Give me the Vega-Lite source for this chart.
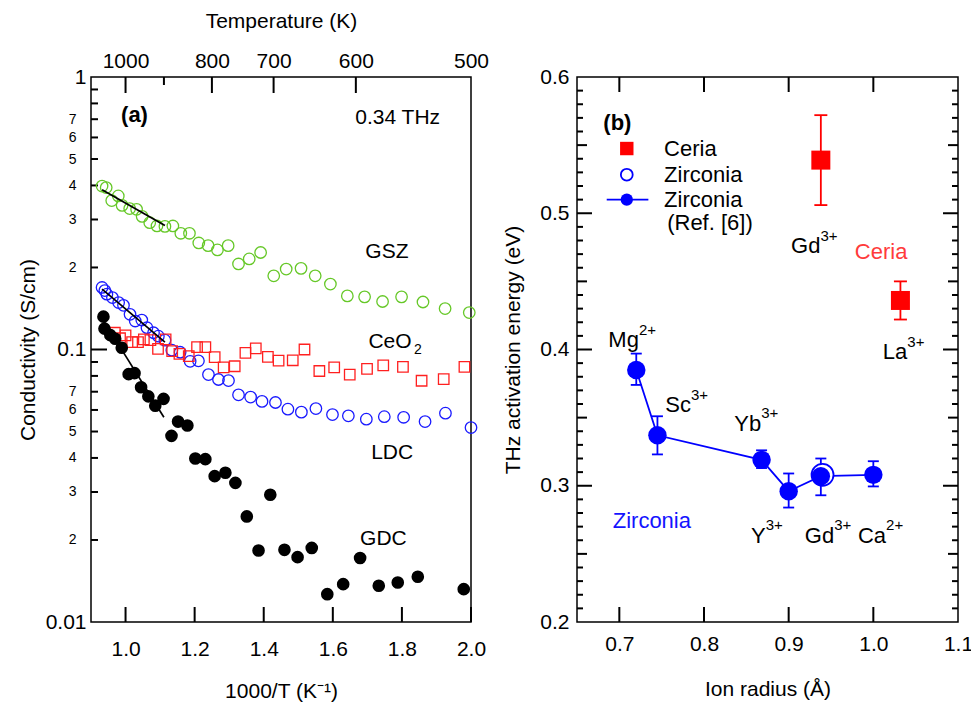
{
  "$schema": "https://vega.github.io/schema/vega-lite/v6.json",
  "background": "white",
  "padding": {"left": 16, "top": 9, "right": 5, "bottom": 5},
  "spacing": 12,
  "config": {
    "view": {"stroke": "black", "strokeWidth": 1.5},
    "axis": {"domain": false, "grid": false, "ticks": false, "labelColor": "black", "labelFont": "Liberation Sans", "labelFontSize": 21, "titleFont": "Liberation Sans", "titleFontSize": 21, "titleFontWeight": "normal", "titleColor": "black", "labelFlush": false, "labelOverlap": false},
    "text": {"font": "Liberation Sans", "color": "black"}
  },
  "hconcat": [
    {
      "width": 380,
      "height": 545,
      "layer": [
        {
          "data": {"values": [{"v":1.0},{"v":1.2},{"v":1.4},{"v":1.6},{"v":1.8},{"v":2.0}]},
          "mark": {"type": "rule", "color": "#000000", "strokeWidth": 2},
          "encoding": {
            "x": {"field": "v", "type": "quantitative", "scale": {"domain": [0.9, 2.0], "nice": false, "zero": false}, "axis": null},
            "y": {"datum": 0.01, "type": "quantitative", "scale": {"type": "log", "domain": [0.01, 1], "nice": false}, "axis": null},
            "y2": {"datum": 0.01135}
          }
        },
        {
          "data": {"values": [{"v":1.0},{"v":1.25},{"v":1.4285714},{"v":1.6666667}]},
          "mark": {"type": "rule", "color": "#000000", "strokeWidth": 2},
          "encoding": {
            "x": {"field": "v", "type": "quantitative", "scale": {"domain": [0.9, 2.0], "nice": false, "zero": false}, "axis": null},
            "y": {"datum": 1, "type": "quantitative", "scale": {"type": "log", "domain": [0.01, 1], "nice": false}, "axis": null},
            "y2": {"datum": 0.8736}
          }
        },
        {
          "data": {"values": [{"v":1.1111111}]},
          "mark": {"type": "rule", "color": "#000000", "strokeWidth": 2},
          "encoding": {
            "x": {"field": "v", "type": "quantitative", "scale": {"domain": [0.9, 2.0], "nice": false, "zero": false}, "axis": null},
            "y": {"datum": 1, "type": "quantitative", "scale": {"type": "log", "domain": [0.01, 1], "nice": false}, "axis": null},
            "y2": {"datum": 0.9347}
          }
        },
        {
          "data": {"values": [{"v":0.1}]},
          "mark": {"type": "rule", "color": "#000000", "strokeWidth": 2},
          "encoding": {
            "x": {"datum": 0.9, "type": "quantitative", "scale": {"domain": [0.9, 2.0], "nice": false, "zero": false}, "axis": null},
            "x2": {"datum": 0.9463},
            "y": {"field": "v", "type": "quantitative", "scale": {"type": "log", "domain": [0.01, 1], "nice": false}, "axis": null}
          }
        },
        {
          "data": {"values": [{"v":0.02},{"v":0.03},{"v":0.04},{"v":0.05},{"v":0.06},{"v":0.07},{"v":0.08},{"v":0.09},{"v":0.2},{"v":0.3},{"v":0.4},{"v":0.5},{"v":0.6},{"v":0.7},{"v":0.8},{"v":0.9}]},
          "mark": {"type": "rule", "color": "#000000", "strokeWidth": 2},
          "encoding": {
            "x": {"datum": 0.9, "type": "quantitative", "scale": {"domain": [0.9, 2.0], "nice": false, "zero": false}, "axis": null},
            "x2": {"datum": 0.9203},
            "y": {"field": "v", "type": "quantitative", "scale": {"type": "log", "domain": [0.01, 1], "nice": false}, "axis": null}
          }
        },
        {
          "data": {"values": [
            {"x":0.932,"y":0.398},{"x":0.944,"y":0.393},{"x":0.960,"y":0.352},{"x":0.979,"y":0.366},{"x":0.990,"y":0.338},{"x":1.012,"y":0.329},{"x":1.032,"y":0.327},{"x":1.048,"y":0.308},{"x":1.070,"y":0.292},{"x":1.091,"y":0.284},{"x":1.114,"y":0.283},{"x":1.137,"y":0.284},{"x":1.160,"y":0.267},{"x":1.185,"y":0.267},{"x":1.212,"y":0.246},{"x":1.239,"y":0.2405},{"x":1.266,"y":0.232},{"x":1.297,"y":0.2405},{"x":1.327,"y":0.206},{"x":1.358,"y":0.215},{"x":1.391,"y":0.227},{"x":1.429,"y":0.1864},{"x":1.465,"y":0.1973},{"x":1.508,"y":0.1985},{"x":1.549,"y":0.1864},{"x":1.593,"y":0.1738},{"x":1.642,"y":0.1573},{"x":1.692,"y":0.156},{"x":1.744,"y":0.150},{"x":1.799,"y":0.156},{"x":1.861,"y":0.1494},{"x":1.925,"y":0.1413},{"x":1.995,"y":0.1366}
          ]},
          "mark": {"type": "point", "shape": "circle", "filled": false, "color": "#66c828", "strokeWidth": 1.3, "size": 132, "opacity": 1},
          "encoding": {
            "x": {"field": "x", "type": "quantitative", "scale": {"domain": [0.9, 2.0], "nice": false, "zero": false},
                  "axis": {"orient": "bottom", "values": [1, 1.2, 1.4, 1.6, 1.8, 2], "format": ".1f", "labelPadding": 16, "title": "1000/T (K⁻¹)", "titlePadding": 21}},
            "y": {"field": "y", "type": "quantitative", "scale": {"type": "log", "domain": [0.01, 1], "nice": false},
                  "axis": {"orient": "left", "values": [0.01, 0.1, 1], "labelExpr": "datum.value > 0.5 ? '1' : datum.value > 0.05 ? '0.1' : '0.01'", "labelPadding": 5, "title": "Conductivity (S/cm)", "titlePadding": 7}}
          }
        },
        {
          "data": {"values": [
            {"x":0.932,"y":0.1689},{"x":0.940,"y":0.1645},{"x":0.946,"y":0.1596},{"x":0.962,"y":0.1551},{"x":0.980,"y":0.1487},{"x":0.994,"y":0.1453},{"x":1.013,"y":0.1346},{"x":1.028,"y":0.1272},{"x":1.047,"y":0.1282},{"x":1.062,"y":0.1202},{"x":1.081,"y":0.1152},{"x":1.095,"y":0.1119},{"x":1.114,"y":0.1082},{"x":1.134,"y":0.0994},{"x":1.158,"y":0.0977},{"x":1.187,"y":0.0905},{"x":1.211,"y":0.0909},{"x":1.240,"y":0.0809},{"x":1.269,"y":0.0776},{"x":1.298,"y":0.0769},{"x":1.327,"y":0.0682},{"x":1.362,"y":0.0669},{"x":1.395,"y":0.0645},{"x":1.434,"y":0.0639},{"x":1.470,"y":0.0604},{"x":1.509,"y":0.0589},{"x":1.551,"y":0.0607},{"x":1.599,"y":0.0577},{"x":1.645,"y":0.0571},{"x":1.697,"y":0.0555},{"x":1.749,"y":0.0567},{"x":1.805,"y":0.0564},{"x":1.867,"y":0.0544},{"x":1.926,"y":0.0584},{"x":2.000,"y":0.0517}
          ]},
          "mark": {"type": "point", "shape": "circle", "filled": false, "color": "#1a1aff", "strokeWidth": 1.3, "size": 132, "opacity": 1},
          "encoding": {
            "x": {"field": "x", "type": "quantitative", "scale": {"domain": [0.9, 2.0], "nice": false, "zero": false},
                  "axis": {"orient": "top", "values": [1, 1.25, 1.4285714, 1.6666667, 2], "labelExpr": "format(1000 / datum.value, '.0f')", "labelPadding": 6, "title": "Temperature (K)", "titlePadding": 19}},
            "y": {"field": "y", "type": "quantitative", "scale": {"type": "log", "domain": [0.01, 1], "nice": false},
                  "axis": {"orient": "left", "values": [0.02, 0.03, 0.04, 0.05, 0.06, 0.07, 0.2, 0.3, 0.4, 0.5, 0.6, 0.7], "labelExpr": "format(datum.value < 0.095 ? round(datum.value * 100) : round(datum.value * 10), 'd')", "labelFontSize": 14, "labelPadding": 15, "title": null}}
          }
        },
        {
          "data": {"values": [
            {"x":0.969,"y":0.1152},{"x":0.984,"y":0.1100},{"x":1.000,"y":0.1126},{"x":1.019,"y":0.1064},{"x":1.036,"y":0.1064},{"x":1.053,"y":0.1089},{"x":1.072,"y":0.1082},{"x":1.094,"y":0.1006},{"x":1.116,"y":0.1089},{"x":1.135,"y":0.0986},{"x":1.156,"y":0.0964},{"x":1.183,"y":0.0945},{"x":1.207,"y":0.1020},{"x":1.231,"y":0.1020},{"x":1.258,"y":0.0937},{"x":1.284,"y":0.0860},{"x":1.316,"y":0.0868},{"x":1.347,"y":0.0972},{"x":1.377,"y":0.1009},{"x":1.412,"y":0.0940},{"x":1.443,"y":0.0911},{"x":1.484,"y":0.0913},{"x":1.518,"y":0.1000},{"x":1.561,"y":0.0834},{"x":1.604,"y":0.0860},{"x":1.649,"y":0.0809},{"x":1.699,"y":0.0849},{"x":1.746,"y":0.0875},{"x":1.803,"y":0.0863},{"x":1.857,"y":0.0768},{"x":1.921,"y":0.0779},{"x":1.981,"y":0.0863}
          ]},
          "mark": {"type": "point", "shape": "square", "filled": false, "color": "#ff2020", "strokeWidth": 1.3, "size": 110, "opacity": 1},
          "encoding": {
            "x": {"field": "x", "type": "quantitative", "scale": {"domain": [0.9, 2.0], "nice": false, "zero": false}, "axis": null},
            "y": {"field": "y", "type": "quantitative", "scale": {"type": "log", "domain": [0.01, 1], "nice": false}, "axis": null}
          }
        },
        {
          "data": {"values": [
            {"x":0.936,"y":0.1320},{"x":0.939,"y":0.1193},{"x":0.956,"y":0.1129},{"x":0.970,"y":0.1095},{"x":0.989,"y":0.1015},{"x":1.009,"y":0.0812},{"x":1.026,"y":0.0819},{"x":1.045,"y":0.0727},{"x":1.066,"y":0.0673},{"x":1.086,"y":0.0622},{"x":1.110,"y":0.0659},{"x":1.133,"y":0.0482},{"x":1.152,"y":0.0544},{"x":1.179,"y":0.0526},{"x":1.202,"y":0.0398},{"x":1.231,"y":0.0396},{"x":1.258,"y":0.0343},{"x":1.289,"y":0.0353},{"x":1.318,"y":0.0324},{"x":1.351,"y":0.0244},{"x":1.385,"y":0.0183},{"x":1.419,"y":0.0293},{"x":1.460,"y":0.0184},{"x":1.498,"y":0.0173},{"x":1.539,"y":0.0187},{"x":1.584,"y":0.01265},{"x":1.630,"y":0.01377},{"x":1.679,"y":0.01718},{"x":1.733,"y":0.01358},{"x":1.788,"y":0.01396},{"x":1.846,"y":0.01466},{"x":1.979,"y":0.0132}
          ]},
          "mark": {"type": "point", "shape": "circle", "filled": true, "color": "black", "size": 160, "opacity": 1},
          "encoding": {
            "x": {"field": "x", "type": "quantitative", "scale": {"domain": [0.9, 2.0], "nice": false, "zero": false}, "axis": null},
            "y": {"field": "y", "type": "quantitative", "scale": {"type": "log", "domain": [0.01, 1], "nice": false}, "axis": null}
          }
        },
        {
          "data": {"values": [
            {"s":"GSZ","x":0.932,"y":0.386},{"s":"GSZ","x":1.114,"y":0.285},
            {"s":"LDC","x":0.932,"y":0.1665},{"s":"LDC","x":1.114,"y":0.1064},
            {"s":"GDC","x":0.931,"y":0.1309},{"s":"GDC","x":1.111,"y":0.0564}
          ]},
          "mark": {"type": "line", "color": "black", "strokeWidth": 1.7},
          "encoding": {
            "x": {"field": "x", "type": "quantitative", "scale": {"domain": [0.9, 2.0], "nice": false, "zero": false}, "axis": null},
            "y": {"field": "y", "type": "quantitative", "scale": {"type": "log", "domain": [0.01, 1], "nice": false}, "axis": null},
            "detail": {"field": "s"}
          }
        },
        {
          "data": {"values": [
            {"t":"0.34 THz","x":1.665,"y":0.6725},
            {"t":"GSZ","x":1.694,"y":0.2167},
            {"t":"CeO","x":1.703,"y":0.1015},
            {"t":"LDC","x":1.711,"y":0.0398},
            {"t":"GDC","x":1.679,"y":0.01919}
          ]},
          "mark": {"type": "text", "align": "left", "baseline": "alphabetic", "fontSize": 21},
          "encoding": {
            "x": {"field": "x", "type": "quantitative", "scale": {"domain": [0.9, 2.0], "nice": false, "zero": false}, "axis": null},
            "y": {"field": "y", "type": "quantitative", "scale": {"type": "log", "domain": [0.01, 1], "nice": false}, "axis": null},
            "text": {"field": "t"}
          }
        },
        {
          "data": {"values": [{"t":"2","x":1.8347,"y":0.0966}]},
          "mark": {"type": "text", "align": "left", "baseline": "alphabetic", "fontSize": 14},
          "encoding": {
            "x": {"field": "x", "type": "quantitative", "scale": {"domain": [0.9, 2.0], "nice": false, "zero": false}, "axis": null},
            "y": {"field": "y", "type": "quantitative", "scale": {"type": "log", "domain": [0.01, 1], "nice": false}, "axis": null},
            "text": {"field": "t"}
          }
        },
        {
          "data": {"values": [{"t":"(a)","x":0.987,"y":0.682}]},
          "mark": {"type": "text", "align": "left", "baseline": "alphabetic", "fontSize": 22, "fontWeight": "bold"},
          "encoding": {
            "x": {"field": "x", "type": "quantitative", "scale": {"domain": [0.9, 2.0], "nice": false, "zero": false}, "axis": null},
            "y": {"field": "y", "type": "quantitative", "scale": {"type": "log", "domain": [0.01, 1], "nice": false}, "axis": null},
            "text": {"field": "t"}
          }
        }
      ],
      "resolve": {"axis": {"x": "independent", "y": "independent"}}
    },
    {
      "width": 381,
      "height": 545,
      "layer": [
        {
          "data": {"values": [{"v":0.7},{"v":0.8},{"v":0.9},{"v":1.0}]},
          "mark": {"type": "rule", "color": "#000000", "strokeWidth": 2},
          "encoding": {
            "x": {"field": "v", "type": "quantitative", "scale": {"domain": [0.65, 1.1], "nice": false, "zero": false}, "axis": null},
            "y": {"datum": 0.2, "type": "quantitative", "scale": {"domain": [0.2, 0.6], "nice": false, "zero": false}, "axis": null},
            "y2": {"datum": 0.211}
          }
        },
        {
          "data": {"values": [{"v":0.7},{"v":0.8},{"v":0.9},{"v":1.0}]},
          "mark": {"type": "rule", "color": "#000000", "strokeWidth": 2},
          "encoding": {
            "x": {"field": "v", "type": "quantitative", "scale": {"domain": [0.65, 1.1], "nice": false, "zero": false}, "axis": null},
            "y": {"datum": 0.6, "type": "quantitative", "scale": {"domain": [0.2, 0.6], "nice": false, "zero": false}, "axis": null},
            "y2": {"datum": 0.589}
          }
        },
        {
          "data": {"values": [{"v":0.3},{"v":0.4},{"v":0.5}]},
          "mark": {"type": "rule", "color": "#000000", "strokeWidth": 2},
          "encoding": {
            "x": {"datum": 0.65, "type": "quantitative", "scale": {"domain": [0.65, 1.1], "nice": false, "zero": false}, "axis": null},
            "x2": {"datum": 0.6677},
            "y": {"field": "v", "type": "quantitative", "scale": {"domain": [0.2, 0.6], "nice": false, "zero": false}, "axis": null}
          }
        },
        {
          "data": {"values": [{"v":0.25},{"v":0.35},{"v":0.45},{"v":0.55}]},
          "mark": {"type": "rule", "color": "#000000", "strokeWidth": 2},
          "encoding": {
            "x": {"datum": 0.65, "type": "quantitative", "scale": {"domain": [0.65, 1.1], "nice": false, "zero": false}, "axis": null},
            "x2": {"datum": 0.6618},
            "y": {"field": "v", "type": "quantitative", "scale": {"domain": [0.2, 0.6], "nice": false, "zero": false}, "axis": null}
          }
        },
        {
          "data": {"values": [{"v":0.21},{"v":0.22},{"v":0.23},{"v":0.24},{"v":0.26},{"v":0.27},{"v":0.28},{"v":0.29},{"v":0.31},{"v":0.32},{"v":0.33},{"v":0.34},{"v":0.36},{"v":0.37},{"v":0.38},{"v":0.39},{"v":0.41},{"v":0.42},{"v":0.43},{"v":0.44},{"v":0.46},{"v":0.47},{"v":0.48},{"v":0.49},{"v":0.51},{"v":0.52},{"v":0.53},{"v":0.54},{"v":0.56},{"v":0.57},{"v":0.58},{"v":0.59}]},
          "mark": {"type": "rule", "color": "#000000", "strokeWidth": 2},
          "encoding": {
            "x": {"datum": 0.65, "type": "quantitative", "scale": {"domain": [0.65, 1.1], "nice": false, "zero": false}, "axis": null},
            "x2": {"datum": 0.6571},
            "y": {"field": "v", "type": "quantitative", "scale": {"domain": [0.2, 0.6], "nice": false, "zero": false}, "axis": null}
          }
        },
        {
          "data": {"values": [{"v":0.3},{"v":0.4},{"v":0.5}]},
          "mark": {"type": "rule", "color": "#000000", "strokeWidth": 2},
          "encoding": {
            "x": {"datum": 1.1, "type": "quantitative", "scale": {"domain": [0.65, 1.1], "nice": false, "zero": false}, "axis": null},
            "x2": {"datum": 1.0823},
            "y": {"field": "v", "type": "quantitative", "scale": {"domain": [0.2, 0.6], "nice": false, "zero": false}, "axis": null}
          }
        },
        {
          "data": {"values": [{"v":0.25},{"v":0.35},{"v":0.45},{"v":0.55}]},
          "mark": {"type": "rule", "color": "#000000", "strokeWidth": 2},
          "encoding": {
            "x": {"datum": 1.1, "type": "quantitative", "scale": {"domain": [0.65, 1.1], "nice": false, "zero": false}, "axis": null},
            "x2": {"datum": 1.0882},
            "y": {"field": "v", "type": "quantitative", "scale": {"domain": [0.2, 0.6], "nice": false, "zero": false}, "axis": null}
          }
        },
        {
          "data": {"values": [{"v":0.21},{"v":0.22},{"v":0.23},{"v":0.24},{"v":0.26},{"v":0.27},{"v":0.28},{"v":0.29},{"v":0.31},{"v":0.32},{"v":0.33},{"v":0.34},{"v":0.36},{"v":0.37},{"v":0.38},{"v":0.39},{"v":0.41},{"v":0.42},{"v":0.43},{"v":0.44},{"v":0.46},{"v":0.47},{"v":0.48},{"v":0.49},{"v":0.51},{"v":0.52},{"v":0.53},{"v":0.54},{"v":0.56},{"v":0.57},{"v":0.58},{"v":0.59}]},
          "mark": {"type": "rule", "color": "#000000", "strokeWidth": 2},
          "encoding": {
            "x": {"datum": 1.1, "type": "quantitative", "scale": {"domain": [0.65, 1.1], "nice": false, "zero": false}, "axis": null},
            "x2": {"datum": 1.0929},
            "y": {"field": "v", "type": "quantitative", "scale": {"domain": [0.2, 0.6], "nice": false, "zero": false}, "axis": null}
          }
        },
        {
          "data": {"values": [{"x":0.938,"y":0.539,"lo":0.506,"hi":0.572},{"x":1.032,"y":0.436,"lo":0.422,"hi":0.450}]},
          "mark": {"type": "rule", "color": "#ff0000", "strokeWidth": 1.8},
          "encoding": {
            "x": {"field": "x", "type": "quantitative", "scale": {"domain": [0.65, 1.1], "nice": false, "zero": false},
                  "axis": {"orient": "bottom", "values": [0.7, 0.8, 0.9, 1.0, 1.1], "format": ".1f", "labelPadding": 11, "title": "Ion radius (Å)", "titlePadding": 24}},
            "y": {"field": "lo", "type": "quantitative", "scale": {"domain": [0.2, 0.6], "nice": false, "zero": false},
                  "axis": {"orient": "left", "values": [0.2, 0.3, 0.4, 0.5, 0.6], "format": ".1f", "labelPadding": 8, "title": "THz activation energy (eV)", "titlePadding": 16}},
            "y2": {"field": "hi"}
          }
        },
        {
          "data": {"values": [{"x":0.938,"v":0.506},{"x":0.938,"v":0.572},{"x":1.032,"v":0.422},{"x":1.032,"v":0.450}]},
          "mark": {"type": "tick", "orient": "horizontal", "color": "#ff0000", "size": 13, "thickness": 1.8, "opacity": 1},
          "encoding": {
            "x": {"field": "x", "type": "quantitative", "scale": {"domain": [0.65, 1.1], "nice": false, "zero": false}, "axis": null},
            "y": {"field": "v", "type": "quantitative", "scale": {"domain": [0.2, 0.6], "nice": false, "zero": false}, "axis": null}
          }
        },
        {
          "data": {"values": [{"x":0.938,"y":0.539},{"x":1.032,"y":0.436}]},
          "mark": {"type": "point", "shape": "square", "filled": true, "color": "#ff0000", "size": 361, "opacity": 1},
          "encoding": {
            "x": {"field": "x", "type": "quantitative", "scale": {"domain": [0.65, 1.1], "nice": false, "zero": false}, "axis": null},
            "y": {"field": "y", "type": "quantitative", "scale": {"domain": [0.2, 0.6], "nice": false, "zero": false}, "axis": null}
          }
        },
        {
          "data": {"values": [
            {"ion":"Mg","x":0.720,"y":0.385},{"ion":"Sc","x":0.745,"y":0.337},{"ion":"Yb","x":0.868,"y":0.319},{"ion":"Y","x":0.900,"y":0.296},{"ion":"Gd","x":0.938,"y":0.307},{"ion":"Ca","x":1.000,"y":0.308}
          ]},
          "mark": {"type": "line", "color": "#0000ff", "strokeWidth": 1.8},
          "encoding": {
            "x": {"field": "x", "type": "quantitative", "scale": {"domain": [0.65, 1.1], "nice": false, "zero": false}, "axis": null},
            "y": {"field": "y", "type": "quantitative", "scale": {"domain": [0.2, 0.6], "nice": false, "zero": false}, "axis": null}
          }
        },
        {
          "data": {"values": [
            {"x":0.720,"lo":0.374,"hi":0.397},{"x":0.745,"lo":0.323,"hi":0.351},{"x":0.868,"lo":0.313,"hi":0.326},{"x":0.900,"lo":0.284,"hi":0.309},{"x":0.938,"lo":0.293,"hi":0.320},{"x":1.000,"lo":0.2995,"hi":0.318}
          ]},
          "mark": {"type": "rule", "color": "#0000ff", "strokeWidth": 1.8},
          "encoding": {
            "x": {"field": "x", "type": "quantitative", "scale": {"domain": [0.65, 1.1], "nice": false, "zero": false}, "axis": null},
            "y": {"field": "lo", "type": "quantitative", "scale": {"domain": [0.2, 0.6], "nice": false, "zero": false}, "axis": null},
            "y2": {"field": "hi"}
          }
        },
        {
          "data": {"values": [
            {"x":0.720,"v":0.374},{"x":0.720,"v":0.397},{"x":0.745,"v":0.323},{"x":0.745,"v":0.351},{"x":0.868,"v":0.313},{"x":0.868,"v":0.326},{"x":0.900,"v":0.284},{"x":0.900,"v":0.309},{"x":0.938,"v":0.293},{"x":0.938,"v":0.320},{"x":1.000,"v":0.2995},{"x":1.000,"v":0.318}
          ]},
          "mark": {"type": "tick", "orient": "horizontal", "color": "#0000ff", "size": 11, "thickness": 1.8, "opacity": 1},
          "encoding": {
            "x": {"field": "x", "type": "quantitative", "scale": {"domain": [0.65, 1.1], "nice": false, "zero": false}, "axis": null},
            "y": {"field": "v", "type": "quantitative", "scale": {"domain": [0.2, 0.6], "nice": false, "zero": false}, "axis": null}
          }
        },
        {
          "data": {"values": [{"x":0.940,"y":0.308}]},
          "mark": {"type": "point", "shape": "circle", "filled": false, "fill": "white", "fillOpacity": 1, "color": "#0000ff", "strokeWidth": 1.8, "size": 484, "opacity": 1},
          "encoding": {
            "x": {"field": "x", "type": "quantitative", "scale": {"domain": [0.65, 1.1], "nice": false, "zero": false}, "axis": null},
            "y": {"field": "y", "type": "quantitative", "scale": {"domain": [0.2, 0.6], "nice": false, "zero": false}, "axis": null}
          }
        },
        {
          "data": {"values": [
            {"x":0.720,"y":0.385},{"x":0.745,"y":0.337},{"x":0.868,"y":0.319},{"x":0.900,"y":0.296},{"x":0.938,"y":0.307},{"x":1.000,"y":0.308}
          ]},
          "mark": {"type": "point", "shape": "circle", "filled": true, "color": "#0000ff", "size": 340, "opacity": 1},
          "encoding": {
            "x": {"field": "x", "type": "quantitative", "scale": {"domain": [0.65, 1.1], "nice": false, "zero": false}, "axis": null},
            "y": {"field": "y", "type": "quantitative", "scale": {"domain": [0.2, 0.6], "nice": false, "zero": false}, "axis": null}
          }
        },
        {
          "data": {"values": [{"x":0.7088,"y":0.5283}]},
          "mark": {"type": "point", "shape": "circle", "filled": false, "color": "#0000ff", "strokeWidth": 1.8, "size": 140, "opacity": 1},
          "encoding": {
            "x": {"field": "x", "type": "quantitative", "scale": {"domain": [0.65, 1.1], "nice": false, "zero": false}, "axis": null},
            "y": {"field": "y", "type": "quantitative", "scale": {"domain": [0.2, 0.6], "nice": false, "zero": false}, "axis": null}
          }
        },
        {
          "data": {"values": [{"x":0.6851,"y":0.510},{"x":0.7343,"y":0.510}]},
          "mark": {"type": "line", "color": "#0000ff", "strokeWidth": 1.8},
          "encoding": {
            "x": {"field": "x", "type": "quantitative", "scale": {"domain": [0.65, 1.1], "nice": false, "zero": false}, "axis": null},
            "y": {"field": "y", "type": "quantitative", "scale": {"domain": [0.2, 0.6], "nice": false, "zero": false}, "axis": null}
          }
        },
        {
          "data": {"values": [{"x":0.7088,"y":0.510}]},
          "mark": {"type": "point", "shape": "circle", "filled": true, "color": "#0000ff", "size": 150, "opacity": 1},
          "encoding": {
            "x": {"field": "x", "type": "quantitative", "scale": {"domain": [0.65, 1.1], "nice": false, "zero": false}, "axis": null},
            "y": {"field": "y", "type": "quantitative", "scale": {"domain": [0.2, 0.6], "nice": false, "zero": false}, "axis": null}
          }
        },
        {
          "data": {"values": [{"x":0.7088,"y":0.5475}]},
          "mark": {"type": "point", "shape": "square", "filled": true, "color": "#ff0000", "size": 180, "opacity": 1},
          "encoding": {
            "x": {"field": "x", "type": "quantitative", "scale": {"domain": [0.65, 1.1], "nice": false, "zero": false}, "axis": null},
            "y": {"field": "y", "type": "quantitative", "scale": {"domain": [0.2, 0.6], "nice": false, "zero": false}, "axis": null}
          }
        },
        {
          "data": {"values": [
            {"t":"Ceria","x":0.7529,"y":0.5475},
            {"t":"Zirconia","x":0.7529,"y":0.5283},
            {"t":"Zirconia","x":0.7529,"y":0.510},
            {"t":"(Ref. [6])","x":0.7565,"y":0.4929}
          ]},
          "mark": {"type": "text", "align": "left", "baseline": "middle", "fontSize": 22},
          "encoding": {
            "x": {"field": "x", "type": "quantitative", "scale": {"domain": [0.65, 1.1], "nice": false, "zero": false}, "axis": null},
            "y": {"field": "y", "type": "quantitative", "scale": {"domain": [0.2, 0.6], "nice": false, "zero": false}, "axis": null},
            "text": {"field": "t"}
          }
        },
        {
          "data": {"values": [
            {"t":"Mg","x":0.7231,"y":0.4015},
            {"t":"Gd","x":0.9375,"y":0.471},
            {"t":"La","x":1.0401,"y":0.3932},
            {"t":"Sc","x":0.7846,"y":0.3542},
            {"t":"Yb","x":0.8675,"y":0.3404},
            {"t":"Y","x":0.8728,"y":0.2582},
            {"t":"Gd","x":0.9538,"y":0.2582},
            {"t":"Ca","x":1.0150,"y":0.2582}
          ]},
          "mark": {"type": "text", "align": "right", "baseline": "alphabetic", "fontSize": 22},
          "encoding": {
            "x": {"field": "x", "type": "quantitative", "scale": {"domain": [0.65, 1.1], "nice": false, "zero": false}, "axis": null},
            "y": {"field": "y", "type": "quantitative", "scale": {"domain": [0.2, 0.6], "nice": false, "zero": false}, "axis": null},
            "text": {"field": "t"}
          }
        },
        {
          "data": {"values": [
            {"t":"2+","x":0.7231,"y":0.4105},
            {"t":"3+","x":0.9375,"y":0.4800},
            {"t":"3+","x":1.0401,"y":0.4022},
            {"t":"3+","x":0.7846,"y":0.3630},
            {"t":"3+","x":0.8675,"y":0.3495},
            {"t":"3+","x":0.8728,"y":0.2674},
            {"t":"3+","x":0.9538,"y":0.2674},
            {"t":"2+","x":1.0150,"y":0.2674}
          ]},
          "mark": {"type": "text", "align": "left", "baseline": "alphabetic", "fontSize": 15},
          "encoding": {
            "x": {"field": "x", "type": "quantitative", "scale": {"domain": [0.65, 1.1], "nice": false, "zero": false}, "axis": null},
            "y": {"field": "y", "type": "quantitative", "scale": {"domain": [0.2, 0.6], "nice": false, "zero": false}, "axis": null},
            "text": {"field": "t"}
          }
        },
        {
          "data": {"values": [{"t":"Ceria","x":0.9781,"y":0.4662}]},
          "mark": {"type": "text", "align": "left", "baseline": "alphabetic", "fontSize": 22, "color": "#ff3b3b"},
          "encoding": {
            "x": {"field": "x", "type": "quantitative", "scale": {"domain": [0.65, 1.1], "nice": false, "zero": false}, "axis": null},
            "y": {"field": "y", "type": "quantitative", "scale": {"domain": [0.2, 0.6], "nice": false, "zero": false}, "axis": null},
            "text": {"field": "t"}
          }
        },
        {
          "data": {"values": [{"t":"Zirconia","x":0.6922,"y":0.2691}]},
          "mark": {"type": "text", "align": "left", "baseline": "alphabetic", "fontSize": 22, "color": "#1414ff"},
          "encoding": {
            "x": {"field": "x", "type": "quantitative", "scale": {"domain": [0.65, 1.1], "nice": false, "zero": false}, "axis": null},
            "y": {"field": "y", "type": "quantitative", "scale": {"domain": [0.2, 0.6], "nice": false, "zero": false}, "axis": null},
            "text": {"field": "t"}
          }
        },
        {
          "data": {"values": [{"t":"(b)","x":0.6811,"y":0.5608}]},
          "mark": {"type": "text", "align": "left", "baseline": "alphabetic", "fontSize": 22, "fontWeight": "bold"},
          "encoding": {
            "x": {"field": "x", "type": "quantitative", "scale": {"domain": [0.65, 1.1], "nice": false, "zero": false}, "axis": null},
            "y": {"field": "y", "type": "quantitative", "scale": {"domain": [0.2, 0.6], "nice": false, "zero": false}, "axis": null},
            "text": {"field": "t"}
          }
        }
      ],
      "resolve": {"axis": {"x": "independent", "y": "independent"}}
    }
  ]
}
